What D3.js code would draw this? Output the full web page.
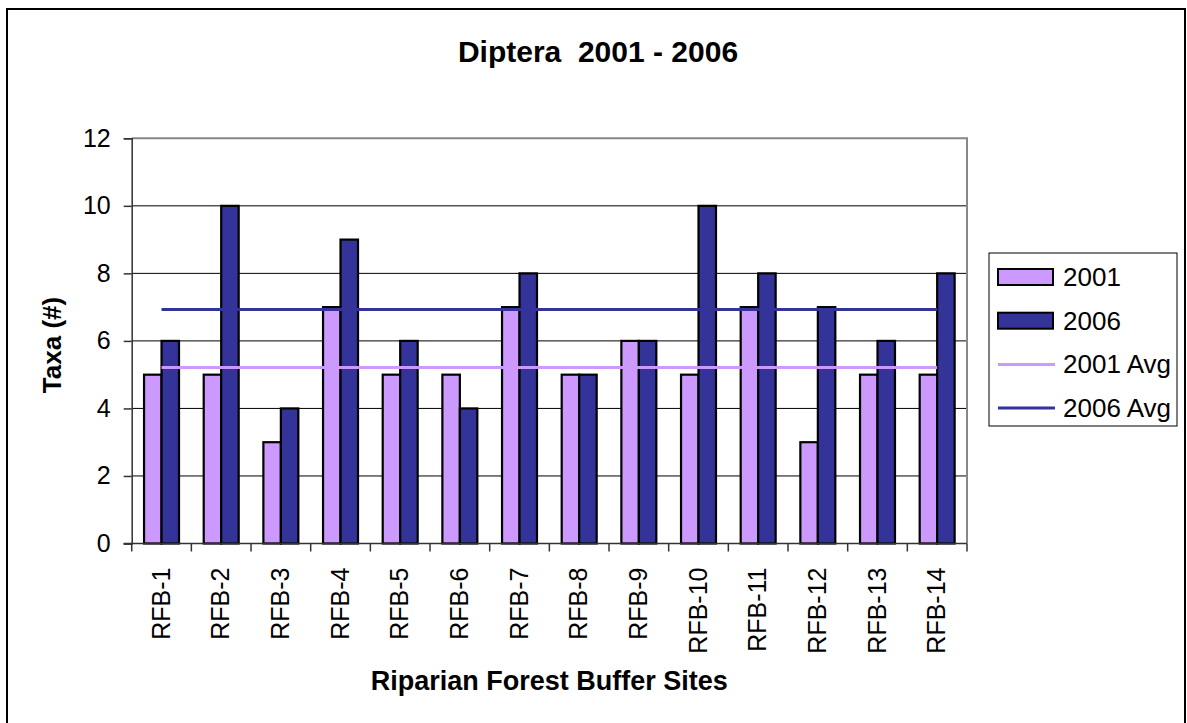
<!DOCTYPE html>
<html>
<head>
<meta charset="utf-8">
<script src="https://cdn.jsdelivr.net/npm/d3@7"></script>
<style>
  body { margin: 0; background: #fff; }
  text { font-family: Arial, "Liberation Sans", sans-serif; fill: #000; }
</style>
</head>
<body>
<div id="chart"></div>
<script>
// site names along the x axis
var sites = ["RFB-1","RFB-2","RFB-3","RFB-4","RFB-5","RFB-6","RFB-7",
             "RFB-8","RFB-9","RFB-10","RFB-11","RFB-12","RFB-13","RFB-14"];
// taxa counts per year
var taxa2001 = [5,5,3,7,5,5,7,5,6,5,7,3,5,5];
var taxa2006 = [6,10,4,9,6,4,8,5,6,10,8,7,6,8];
var years = ["2001","2006"];
var yTicks = [0,2,4,6,8,10,12];

var width = 1187, height = 723;
// plot area edges
var pLeft = 131.7, pRight = 967, pTop = 138.3, pBottom = 543.5;

var color = {"2001": "#CC99FF", "2006": "#333399"};

var svg = d3.select("#chart").append("svg")
    .attr("width", width)
    .attr("height", height);

// outer chart border
svg.append("rect")
    .attr("x", 7).attr("y", 9)
    .attr("width", 1178).attr("height", 730)
    .attr("fill", "#fff")
    .attr("stroke", "#000")
    .attr("stroke-width", 2);

var x = d3.scaleBand().domain(sites).range([pLeft, pRight]).padding(0);
var inner = d3.scaleBand().domain(years)
    .range([x.bandwidth() * 0.207, x.bandwidth() * 0.793]);
var y = d3.scaleLinear().domain([0, 12]).range([pBottom, pTop]);

// gridlines
svg.append("g")
    .selectAll("line")
    .data(yTicks.filter(function(d){ return d > 0 && d < 12; }))
    .enter().append("line")
    .attr("x1", pLeft).attr("x2", pRight)
    .attr("y1", function(d){ return y(d); })
    .attr("y2", function(d){ return y(d); })
    .attr("stroke", "#000").attr("stroke-width", 1);

// plot area top/right border
svg.append("path")
    .attr("d", "M" + pLeft + "," + pTop + "H" + pRight + "V" + pBottom)
    .attr("fill", "none")
    .attr("stroke", "#888")
    .attr("stroke-width", 2);

// bars
var rows = sites.map(function(s, i) {
  return {site: s, values: [{year: "2001", v: taxa2001[i]}, {year: "2006", v: taxa2006[i]}]};
});

var group = svg.selectAll(".site")
    .data(rows)
    .enter().append("g")
    .attr("class", "site")
    .attr("transform", function(d){ return "translate(" + x(d.site) + ",0)"; });

group.selectAll("rect")
    .data(function(d){ return d.values; })
    .enter().append("rect")
    .attr("x", function(d){ return inner(d.year); })
    .attr("width", inner.bandwidth())
    .attr("y", function(d){ return y(d.v); })
    .attr("height", function(d){ return y(0) - y(d.v); })
    .attr("fill", function(d){ return color[d.year]; })
    .attr("stroke", "#000")
    .attr("stroke-width", 2.2);

// average lines
var avgs = [{year: "2001", v: d3.mean(taxa2001)}, {year: "2006", v: d3.mean(taxa2006)}];
var x0 = x(sites[0]) + x.bandwidth() / 2;
var x1 = x(sites[sites.length - 1]) + x.bandwidth() / 2;
svg.selectAll(".avg")
    .data(avgs)
    .enter().append("line")
    .attr("class", "avg")
    .attr("x1", x0).attr("x2", x1)
    .attr("y1", function(d){ return y(d.v); })
    .attr("y2", function(d){ return y(d.v); })
    .attr("stroke", function(d){ return color[d.year]; })
    .attr("stroke-width", 3);

// y axis
var yAxis = svg.append("g")
    .attr("transform", "translate(" + pLeft + ",0)")
    .call(d3.axisLeft(y).tickValues(yTicks).tickSize(8).tickPadding(13));
yAxis.select(".domain").attr("stroke", "#333").attr("stroke-width", 1.5);
yAxis.selectAll(".tick line").attr("stroke", "#333").attr("stroke-width", 1.5);
yAxis.selectAll("text").attr("font-size", 25).attr("font-family", "Arial, 'Liberation Sans', sans-serif");

// x axis line and tick marks at category edges
svg.append("line")
    .attr("x1", pLeft - 8).attr("x2", pRight)
    .attr("y1", pBottom).attr("y2", pBottom)
    .attr("stroke", "#333").attr("stroke-width", 1.5);
svg.selectAll(".xtick")
    .data(sites.concat(["end"]))
    .enter().append("line")
    .attr("class", "xtick")
    .attr("x1", function(d){ return d === "end" ? pRight : x(d); })
    .attr("x2", function(d){ return d === "end" ? pRight : x(d); })
    .attr("y1", pBottom).attr("y2", pBottom + 8)
    .attr("stroke", "#333").attr("stroke-width", 1.5);

// category labels
svg.selectAll(".xlabel")
    .data(sites)
    .enter().append("text")
    .attr("class", "xlabel")
    .attr("transform", function(d){
      return "translate(" + (x(d) + x.bandwidth() / 2 + 8) + "," + (pBottom + 24) + ") rotate(-90)";
    })
    .attr("text-anchor", "end")
    .attr("font-size", 25)
    .text(function(d){ return d; });

// titles
svg.append("text")
    .attr("x", 598).attr("y", 62)
    .attr("text-anchor", "middle")
    .attr("font-size", 30).attr("font-weight", "bold")
    .style("white-space", "pre")
    .text("Diptera  2001 - 2006");

svg.append("text")
    .attr("x", (pLeft + pRight) / 2).attr("y", 690)
    .attr("text-anchor", "middle")
    .attr("font-size", 27).attr("font-weight", "bold")
    .text("Riparian Forest Buffer Sites");

svg.append("text")
    .attr("transform", "translate(61,345) rotate(-90)")
    .attr("text-anchor", "middle")
    .attr("font-size", 26).attr("font-weight", "bold")
    .text("Taxa (#)");

// legend
var legend = svg.append("g").attr("transform", "translate(989,253)");
legend.append("rect")
    .attr("width", 188).attr("height", 173)
    .attr("fill", "#fff").attr("stroke", "#000").attr("stroke-width", 1);

var legendItems = [
  {label: "2001", year: "2001", kind: "bar"},
  {label: "2006", year: "2006", kind: "bar"},
  {label: "2001 Avg", year: "2001", kind: "line"},
  {label: "2006 Avg", year: "2006", kind: "line"}
];
var item = legend.selectAll(".item")
    .data(legendItems)
    .enter().append("g")
    .attr("class", "item")
    .attr("transform", function(d, i){ return "translate(0," + (24 + i * 43.7) + ")"; });

item.filter(function(d){ return d.kind === "bar"; })
    .append("rect")
    .attr("x", 9).attr("y", -8)
    .attr("width", 55).attr("height", 16)
    .attr("fill", function(d){ return color[d.year]; })
    .attr("stroke", "#000").attr("stroke-width", 2);

item.filter(function(d){ return d.kind === "line"; })
    .append("line")
    .attr("x1", 9).attr("x2", 66)
    .attr("stroke", function(d){ return color[d.year]; })
    .attr("stroke-width", 3);

item.append("text")
    .attr("x", 74).attr("y", 9)
    .attr("font-size", 26)
    .text(function(d){ return d.label; });
</script>
</body>
</html>
